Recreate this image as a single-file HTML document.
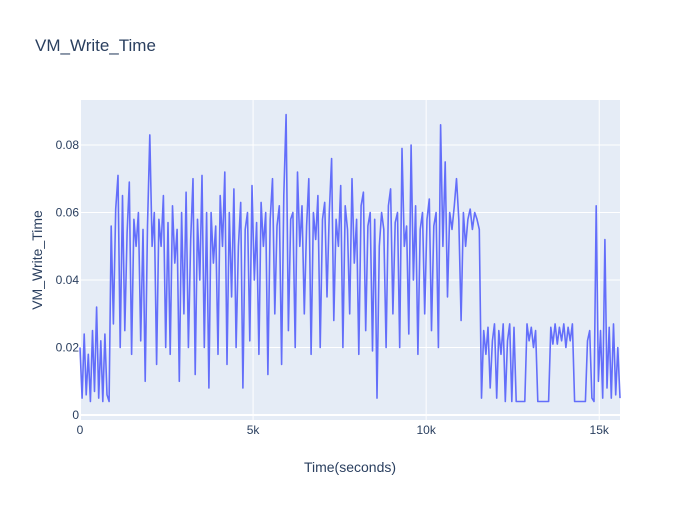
<!DOCTYPE html>
<html><head><meta charset="utf-8"><style>
body{margin:0;background:#fff;font-family:"Liberation Sans",Arial,sans-serif}
</style></head><body>
<svg id="chart" width="700" height="500" xmlns="http://www.w3.org/2000/svg" style="font-family:'Liberation Sans',Arial,sans-serif">
<rect x="0" y="0" width="700" height="500" fill="#fff"/>
<rect x="80" y="100" width="540" height="320" fill="#e5ecf6"/>
<g id="grid"></g>
<g id="ticks"></g>
<g id="series"></g>
<text x="35" y="51" font-size="17" fill="#2a3f5f">VM_Write_Time</text>
<text x="350" y="472" font-size="14" fill="#2a3f5f" text-anchor="middle">Time(seconds)</text>
<text x="42" y="260" font-size="14" fill="#2a3f5f" text-anchor="middle" transform="rotate(-90 42 260)">VM_Write_Time</text>
</svg>
<script>
const xTicks=[0,5000,10000,15000];
const xTickLabels=["0","5k","10k","15k"];
const yTicks=[0,0.02,0.04,0.06,0.08];
const yTickLabels=["0","0.02","0.04","0.06","0.08"];
const segmentStarts=[0,900,11600];
const segmentEnds=[900,11600,15600];
const segmentCounts=[15,163,65];
const values=[
0.02,0.005,0.024,0.006,0.018,0.004,0.025,0.007,0.032,0.005,0.022,0.004,0.024,0.006,0.004,
0.056,0.027,0.061,0.071,0.02,0.065,0.025,0.054,0.069,0.018,0.058,0.05,0.06,0.022,0.055,
0.01,0.056,0.083,0.05,0.06,0.015,0.058,0.05,0.065,0.02,0.057,0.018,0.062,0.045,0.055,
0.01,0.06,0.03,0.066,0.02,0.052,0.07,0.012,0.058,0.04,0.071,0.02,0.06,0.008,0.06,
0.045,0.056,0.018,0.065,0.05,0.072,0.015,0.06,0.035,0.067,0.02,0.05,0.063,0.008,0.055,
0.06,0.022,0.068,0.04,0.057,0.018,0.063,0.05,0.06,0.012,0.058,0.07,0.03,0.056,0.062,
0.015,0.065,0.089,0.025,0.058,0.06,0.02,0.072,0.05,0.062,0.03,0.056,0.07,0.018,0.06,
0.052,0.065,0.02,0.058,0.063,0.035,0.06,0.076,0.028,0.058,0.05,0.068,0.02,0.062,0.055,
0.03,0.07,0.045,0.058,0.018,0.062,0.066,0.025,0.056,0.06,0.019,0.058,0.005,0.05,0.06,
0.055,0.02,0.062,0.067,0.03,0.057,0.06,0.02,0.079,0.05,0.056,0.024,0.08,0.04,0.062,
0.018,0.055,0.06,0.03,0.058,0.064,0.025,0.056,0.06,0.02,0.086,0.05,0.075,0.035,0.06,
0.055,0.062,0.07,0.058,0.028,0.06,0.05,0.058,0.061,0.055,0.06,0.058,0.055,
0.005,0.025,0.018,0.026,0.008,0.022,0.027,0.005,0.025,0.018,0.027,0.004,0.022,0.027,0.004,
0.026,0.004,0.004,0.004,0.004,0.004,0.027,0.022,0.026,0.02,0.025,0.004,0.004,0.004,0.004,
0.004,0.004,0.026,0.021,0.027,0.021,0.026,0.022,0.027,0.02,0.026,0.022,0.027,0.004,0.004,
0.004,0.004,0.004,0.004,0.022,0.025,0.005,0.004,0.062,0.01,0.025,0.005,0.052,0.008,0.026,
0.005,0.027,0.006,0.02,0.005
];
const svgNS="http://www.w3.org/2000/svg";
const X0=80,X1=620,Y0=415,Y80=145,xMax=15600;
function xs(v){return X0+(v/xMax)*(X1-X0);}
function ys(v){return Y0+(v/0.08)*(Y80-Y0);}
function timeAt(i){
  let idx=i;
  for(let s=0;s<segmentCounts.length;s++){
    const n=segmentCounts[s];
    if(idx<n||s===segmentCounts.length-1){
      const last=(s===segmentCounts.length-1);
      const denom=last?Math.max(1,n-1):n;
      return segmentStarts[s]+(segmentEnds[s]-segmentStarts[s])*Math.min(idx,denom)/denom;
    }
    idx-=n;
  }
}
const grid=document.getElementById('grid'),ticks=document.getElementById('ticks'),series=document.getElementById('series');
xTicks.forEach((t,i)=>{
  const l=document.createElementNS(svgNS,'line');
  l.setAttribute('x1',xs(t));l.setAttribute('x2',xs(t));l.setAttribute('y1',100);l.setAttribute('y2',420);
  l.setAttribute('stroke','#fff');l.setAttribute('stroke-width',i==0?2:1);
  
  
  grid.appendChild(l);
  const tx=document.createElementNS(svgNS,'text');
  tx.setAttribute('x',xs(t));tx.setAttribute('y',434);tx.setAttribute('font-size','12');tx.setAttribute('fill','#2a3f5f');tx.setAttribute('text-anchor','middle');
  tx.textContent=xTickLabels[i];
  
  
  ticks.appendChild(tx);
});
yTicks.forEach((t,i)=>{
  const l=document.createElementNS(svgNS,'line');
  l.setAttribute('x1',80);l.setAttribute('x2',620);l.setAttribute('y1',ys(t));l.setAttribute('y2',ys(t));
  l.setAttribute('stroke','#fff');l.setAttribute('stroke-width',i==0?2:1);
  
  
  grid.appendChild(l);
  const tx=document.createElementNS(svgNS,'text');
  tx.setAttribute('x',79);tx.setAttribute('y',ys(t)+4);tx.setAttribute('font-size','12');tx.setAttribute('fill','#2a3f5f');tx.setAttribute('text-anchor','end');
  tx.textContent=yTickLabels[i];
  
  
  ticks.appendChild(tx);
});
const pts=values.map((v,i)=>xs(timeAt(i)).toFixed(1)+','+ys(v).toFixed(1)).join(' ');
const pl=document.createElementNS(svgNS,'polyline');
pl.setAttribute('points',pts);pl.setAttribute('fill','none');pl.setAttribute('stroke','#636efa');pl.setAttribute('stroke-width','1.6');pl.setAttribute('stroke-linejoin','round');


series.appendChild(pl);
</script>
</body></html>
